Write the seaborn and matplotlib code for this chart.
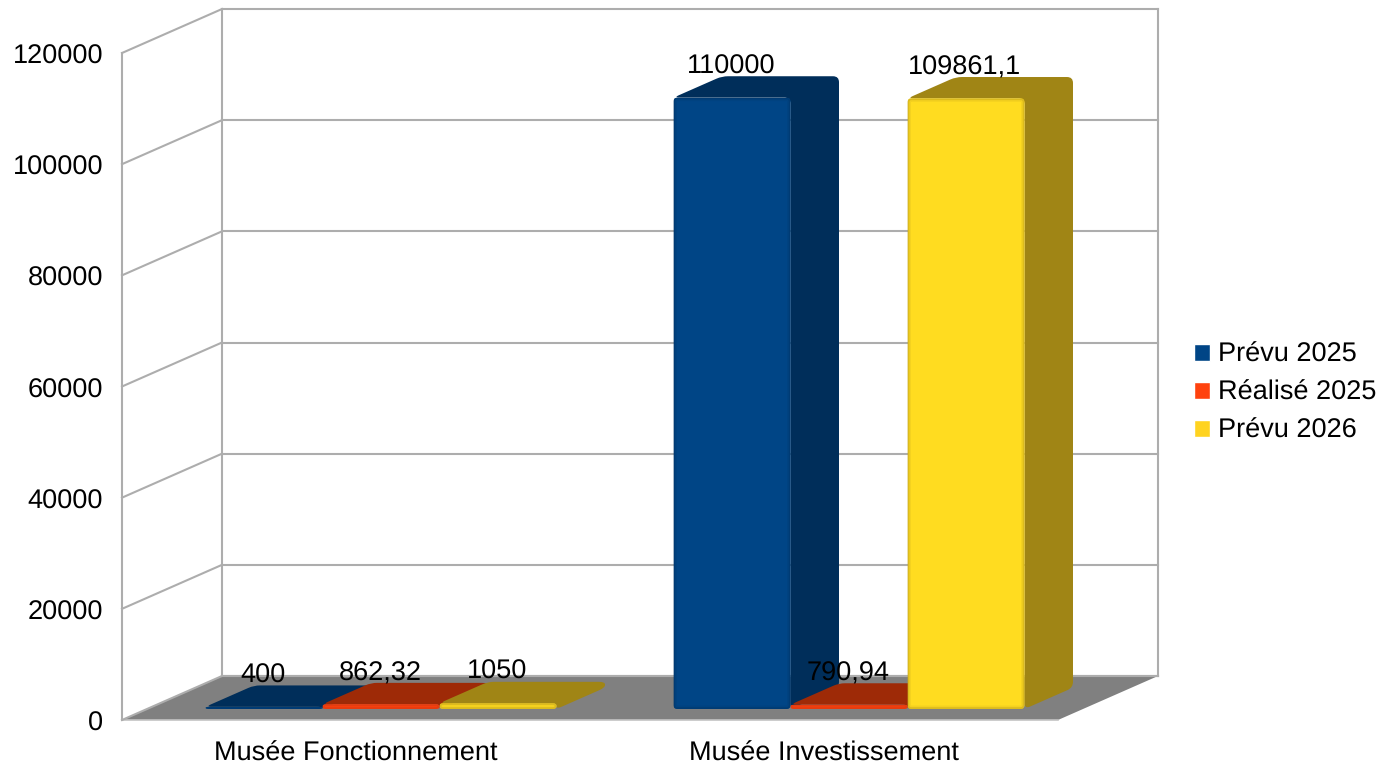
import numpy as np
import pandas as pd
import matplotlib
matplotlib.use("Agg")
import matplotlib.pyplot as plt
from matplotlib.path import Path
from matplotlib.patches import PathPatch
from matplotlib.transforms import Affine2D, IdentityTransform
import seaborn as sns

categories = ["Musée Fonctionnement", "Musée Investissement"]
series_names = ["Prévu 2025", "Réalisé 2025", "Prévu 2026"]
prevu_2025 = [400, 110000]
realise_2025 = [862.32, 790.94]
prevu_2026 = [1050, 109861.1]
y_ticks = [0, 20000, 40000, 60000, 80000, 100000, 120000]

front_colors = ["#004586", "#ff420e", "#ffd320"]
bar_face_colors = ["#004586", "#ff420e", "#ffdc20"]
shade_colors = ["#002e5a", "#9e2a07", "#a08515"]
edge_colors = ["#00376b", "#d93a10", "#c9a91c"]

sns.set_theme(style="white")
plt.rcParams["font.family"] = ["Liberation Sans", "DejaVu Sans"]
plt.rcParams["text.hinting"] = "no_hinting"
plt.rcParams["text.color"] = "black"
FS = 19.5
W, H = 1380, 766
fig = plt.figure(figsize=(W / 100, H / 100), dpi=100, facecolor="white")
ax = fig.add_axes([122 / W, (H - 720) / H, 936 / W, 667 / H])
ax.patch.set_alpha(0)

df = pd.DataFrame({
    "cat": categories * 3,
    "serie": np.repeat(series_names, 2),
    "val": prevu_2025 + realise_2025 + prevu_2026,
})
sns.barplot(data=df, x="cat", y="val", hue="serie", order=categories, hue_order=series_names,
            palette=front_colors, saturation=1, width=0.75, gap=0, errorbar=None, ax=ax)
ax.set_xlim(-0.5, 1.5)
ax.set_ylim(0, 120000)
ax.set_xlabel("")
ax.set_ylabel("")
ax.set_yticks(y_ticks)
ax.set_yticklabels([str(t) for t in y_ticks])
ax.tick_params(axis="y", length=0, pad=13.5, labelsize=FS, labelcolor="black")
ax.tick_params(axis="x", length=0, pad=15.5, labelsize=FS, labelcolor="black")
for lab in ax.get_yticklabels():
    lab.set_transform(lab.get_transform() + Affine2D().translate(0, -1))
sns.despine(ax=ax, left=True, bottom=True, top=True, right=True)

DEPTH = np.array([100.0, 44.0])
BAR_NEAR, BAR_FAR = 0.25, 0.735
ident = IdentityTransform()


def project(x, v, depth=0.0):
    return ax.transData.transform((x, v)) + DEPTH * depth


def rounded(points, r):
    pts = [np.asarray(p, float) for p in points]
    n = len(pts)
    verts, codes = [], []
    for i in range(n):
        p, a, b = pts[i], pts[i - 1], pts[(i + 1) % n]
        la, lb = np.linalg.norm(a - p), np.linalg.norm(b - p)
        ra = min(r, 0.45 * la)
        rb = min(r, 0.45 * lb)
        q1 = p + (a - p) / la * ra
        q2 = p + (b - p) / lb * rb
        verts.append(q1)
        codes.append(Path.MOVETO if i == 0 else Path.LINETO)
        verts += [p, q2]
        codes += [Path.CURVE3, Path.CURVE3]
    verts.append(verts[0])
    codes.append(Path.CLOSEPOLY)
    return Path(verts, codes)


def poly(points, z, fc="none", ec="none", lw=0, r=0, **kw):
    p = PathPatch(rounded(points, r) if r else Path(list(points) + [points[0]], closed=True),
                  facecolor=fc, edgecolor=ec, linewidth=lw, transform=ident,
                  clip_on=False, zorder=z, **kw)
    ax.add_patch(p)
    return p


def line(a, b, z=1.5, color="#adadad", lw=1.5):
    ax.plot([a[0], b[0]], [a[1], b[1]], color=color, lw=lw, transform=ident,
            clip_on=False, zorder=z, solid_capstyle="projecting")


# Walls and floor
x0, x1 = ax.get_xlim()
for v in y_ticks:
    line(project(x0, v, 0), project(x0, v, 1))
    line(project(x0, v, 1), project(x1, v, 1))
line(project(x0, 0, 0), project(x0, 120000, 0))
line(project(x0, 0, 1), project(x0, 120000, 1))
line(project(x1, 0, 1), project(x1, 120000, 1))
poly([project(x0, 0, 0), project(x1, 0, 0), project(x1, 0, 1), project(x0, 0, 1)], 1.2, fc="#808080")
line(project(x0, 0, 0), project(x1, 0, 0), z=1.3, color="#c4c4c4", lw=1.2)
line(project(x0, 0, 1), project(x1, 0, 1), z=1.3)

# Bars: seaborn's rectangles are pushed into the depth; top and side follow them
for h, container in enumerate(ax.containers):
    base = 3 + h * 5
    for bar in container:
        xl, w, v = bar.get_x(), bar.get_width(), bar.get_height()
        xr = xl + w
        a = project(xl, v, BAR_NEAR)
        b = project(xr, v, BAR_NEAR)
        c = project(xr, 0, BAR_NEAR)
        d = project(xl, 0, BAR_NEAR)
        bt = project(xr, v, BAR_FAR)
        at = project(xl, v, BAR_FAR)
        ct = project(xr, 0, BAR_FAR)
        # back silhouette with side and top
        poly([a, at, bt, ct, c, b], base, fc=shade_colors[h], r=6)
        # front face
        bar.set_transform(ax.transData + Affine2D().translate(*(DEPTH * BAR_NEAR)))
        bar.set_facecolor(bar_face_colors[h])
        bar.set_edgecolor("none")
        bar.set_zorder(base + 1)
        bar.set_clip_on(True)
        front = rounded([a, b, c, d], 4)
        bar.set_clip_path(front, ident)
        for lw_b, alpha_b, dz in [(5.0, 0.2, 2), (2.6, 0.55, 3)]:
            bev = PathPatch(front, facecolor="none", edgecolor=edge_colors[h], lw=lw_b, alpha=alpha_b,
                            transform=ident, zorder=base + dz)
            ax.add_patch(bev)
            bev.set_clip_path(front, ident)
        # value label
        txt = str(v)
        if txt.endswith(".0"):
            txt = txt[:-2]
        ax.annotate(txt.replace(".", ","), xy=(bar.get_x() + w / 2, v), xytext=(24, 42),
                    textcoords="offset pixels", ha="center", va="center", fontsize=FS,
                    color="black", zorder=30, annotation_clip=False)

sns.move_legend(ax, "center left", bbox_to_anchor=(1194 / W, (H - 393) / H),
                bbox_transform=fig.transFigure, frameon=False, title=None, fontsize=FS,
                handlelength=0.58, handleheight=0.58, handletextpad=0.3, labelspacing=0.47,
                borderpad=0, borderaxespad=0, labelcolor="black")
fig.savefig("out.png", dpi=100, facecolor="white")
